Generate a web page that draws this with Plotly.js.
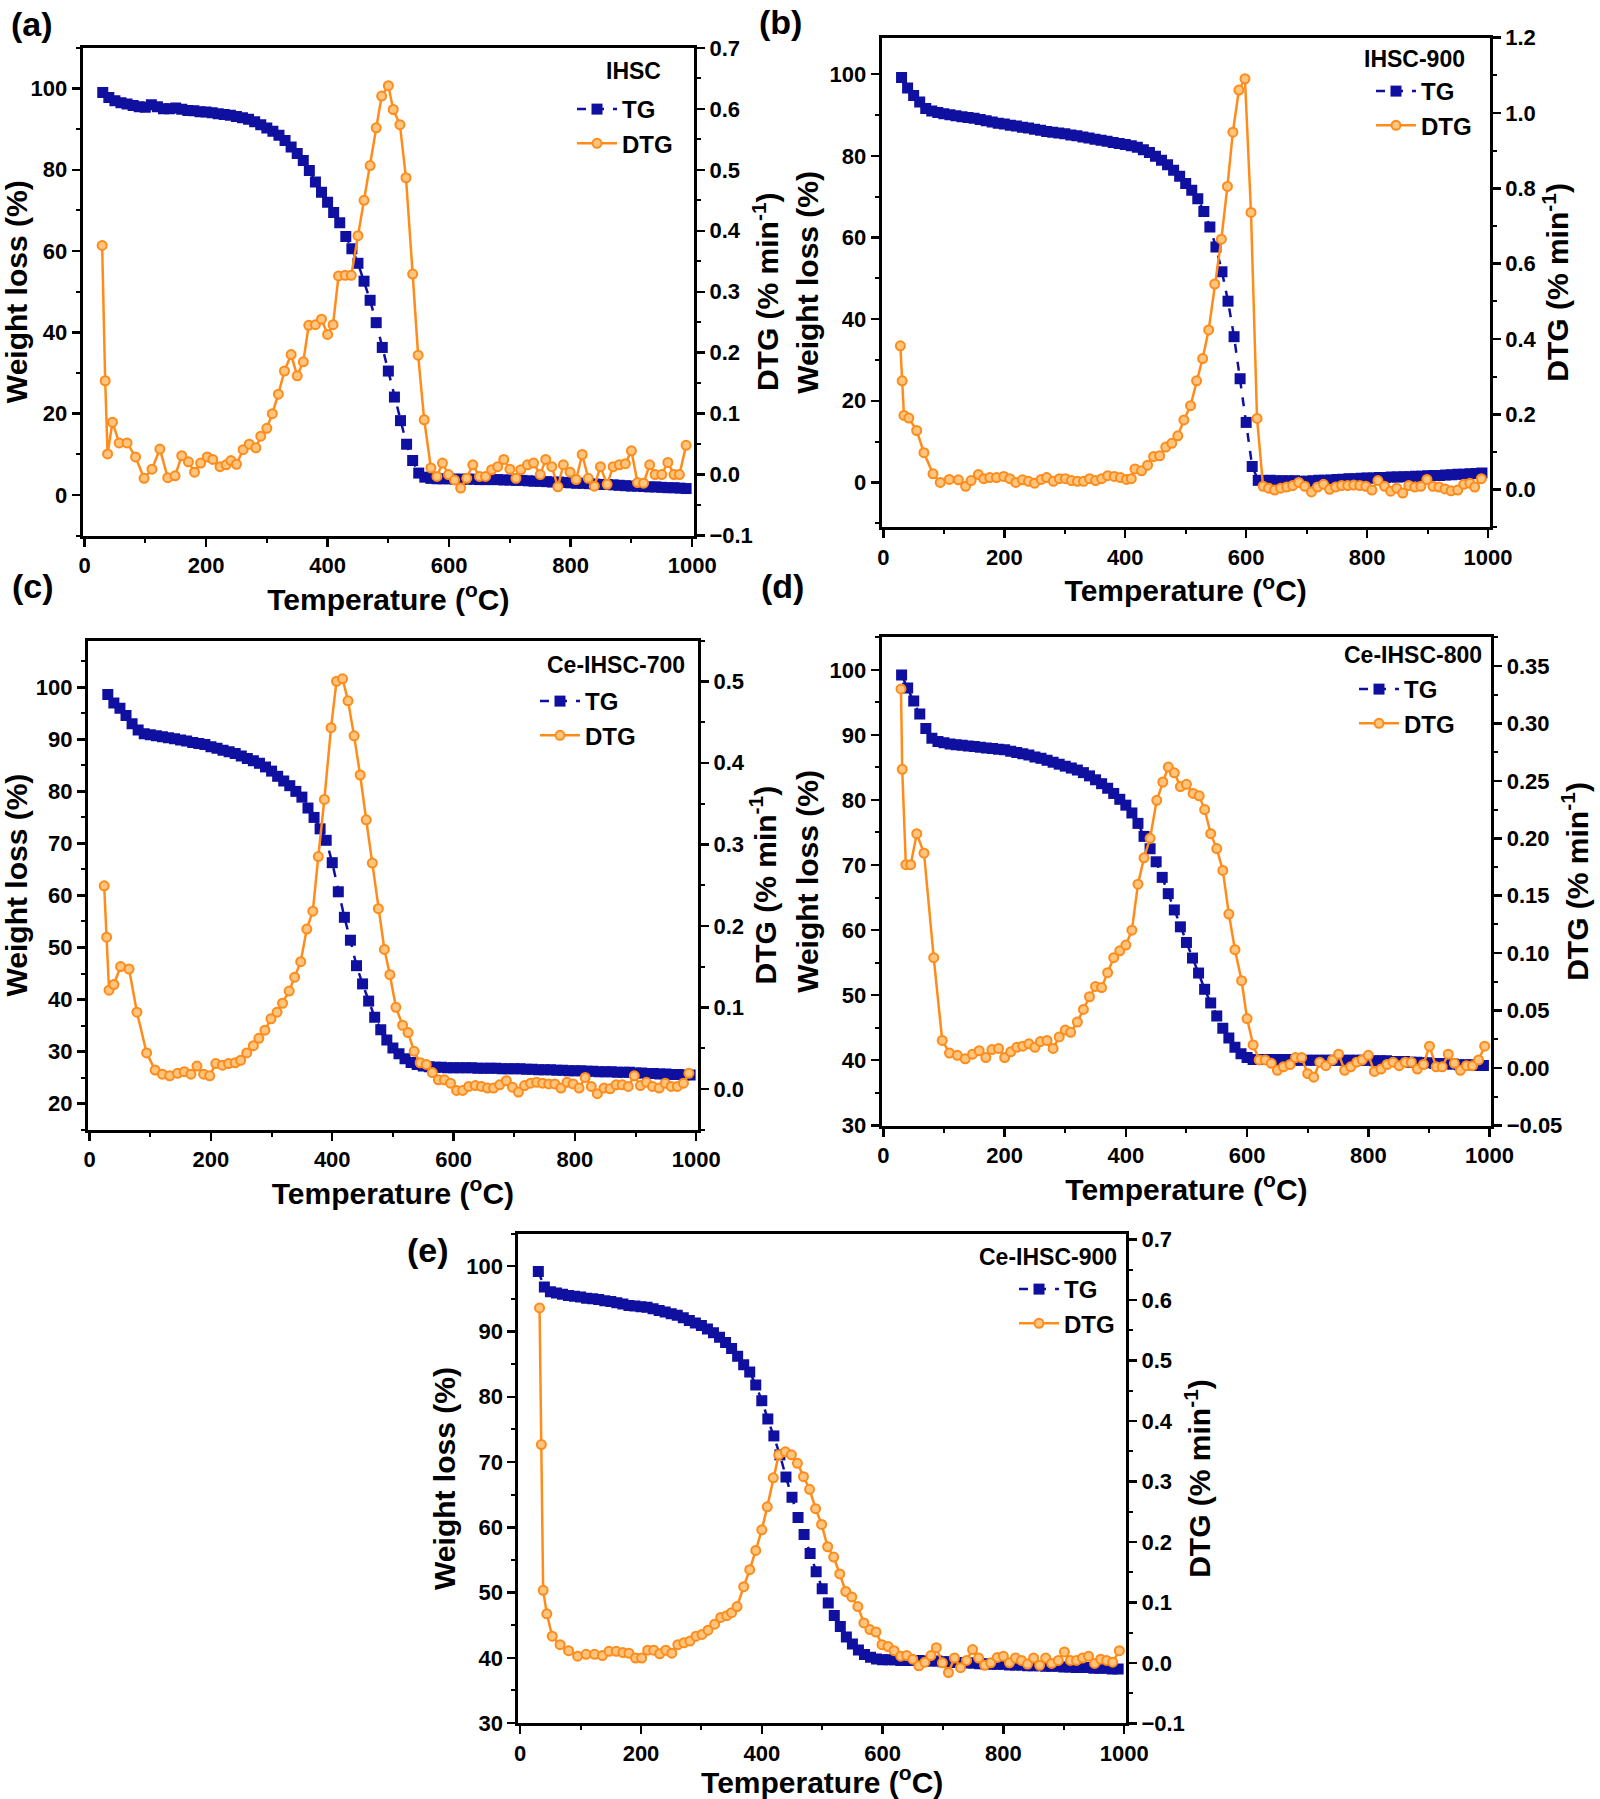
<!DOCTYPE html>
<html><head><meta charset="utf-8">
<script src="https://cdn.plot.ly/plotly-3.0.1.min.js"></script>
<style>html,body{margin:0;padding:0;background:#fff}</style>
</head><body>
<div id="chart" style="width:1600px;height:1799px"></div>
<script>
// ---------- DATA ----------
const temperature = [30,40,50,60,70,80,90,100,110,120,130,140,150,160,170,180,190,200,210,220,230,240,250,260,270,280,290,300,310,320,330,340,350,360,370,380,390,400,410,420,430,440,450,460,470,480,490,500,510,520,530,540,550,560,570,580,590,600,610,620,630,640,650,660,670,680,690,700,710,720,730,740,750,760,770,780,790,800,810,820,830,840,850,860,870,880,890,900,910,920,930,940,950,960,970,980,990];

const tgIHSC = [99.0,97.8,97.0,96.5,96.2,95.8,95.5,95.4,96.0,95.5,
95.0,95.0,95.2,94.9,94.6,94.5,94.3,94.2,94.0,93.8,
93.6,93.4,93.1,92.8,92.4,91.8,91.1,90.3,89.5,88.5,
87.2,85.6,84.0,82.3,79.8,77.0,74.5,72.0,69.5,67.0,
63.6,60.6,57.0,52.6,47.9,42.4,36.3,30.5,24.1,18.3,
12.5,8.5,5.4,4.4,4.1,4.0,4.0,4.0,3.9,3.9,
3.9,3.9,3.8,3.8,3.8,3.8,3.7,3.7,3.6,3.6,
3.5,3.4,3.4,3.3,3.2,3.2,3.1,3.0,2.9,2.9,
2.8,2.7,2.6,2.6,2.5,2.4,2.3,2.2,2.2,2.1,
2.0,2.0,1.9,1.8,1.8,1.7,1.6];

const tgIHSC900 = [99.2,96.6,94.8,93.2,91.6,91.0,90.6,90.3,90.1,89.8,
89.6,89.4,89.2,88.9,88.6,88.3,88.0,87.8,87.5,87.3,
87.0,86.8,86.5,86.3,86.0,85.8,85.6,85.4,85.1,84.9,
84.6,84.4,84.1,83.8,83.6,83.3,83.0,82.8,82.5,82.1,
81.5,80.8,79.9,78.9,77.8,76.5,75.0,73.2,71.6,69.5,
66.4,62.6,57.7,51.6,44.4,35.7,25.4,14.7,3.9,0.5,
0.5,0.5,0.4,0.4,0.4,0.4,0.3,0.3,0.4,0.5,
0.5,0.6,0.7,0.8,0.9,0.9,1.0,1.1,1.1,1.2,
1.2,1.3,1.3,1.4,1.4,1.5,1.5,1.6,1.7,1.7,
1.8,1.9,2.0,2.0,2.1,2.2,2.3];

const tgCe700 = [98.6,97.0,96.0,94.6,93.0,91.8,91.1,90.9,90.7,90.5,
90.3,90.1,89.9,89.7,89.4,89.2,89.0,88.6,88.3,87.9,
87.6,87.3,86.8,86.3,85.9,85.4,84.7,83.9,82.9,82.0,
81.1,80.0,78.9,76.8,75.0,72.8,70.6,66.3,60.7,55.8,
51.4,46.5,43.0,39.7,36.6,34.2,32.2,30.7,29.6,28.6,
27.9,27.5,27.2,27.1,27.0,27.0,26.9,26.9,26.9,26.9,
26.9,26.8,26.8,26.8,26.8,26.7,26.7,26.7,26.7,26.6,
26.6,26.5,26.5,26.5,26.4,26.4,26.3,26.3,26.3,26.2,
26.2,26.1,26.1,26.1,26.0,26.0,26.0,25.9,25.9,25.8,
25.8,25.7,25.7,25.6,25.6,25.5,25.5];

const tgCe800 = [99.2,97.2,95.2,93.2,91.0,89.5,89.0,88.8,88.6,88.5,
88.4,88.3,88.2,88.1,88.0,87.9,87.8,87.7,87.5,87.3,
87.1,86.9,86.6,86.4,86.1,85.8,85.5,85.2,84.9,84.6,
84.2,83.7,83.1,82.5,81.8,81.0,80.1,79.2,78.0,76.4,
74.4,72.5,70.5,68.1,65.6,63.1,60.5,58.1,55.7,53.4,
50.9,48.8,46.8,44.9,43.4,42.0,41.0,40.4,40.1,40.1,
40.1,40.1,40.1,40.1,40.1,40.0,40.0,40.0,40.0,40.0,
40.0,40.0,40.0,40.0,40.0,40.0,40.0,40.0,39.9,39.9,
39.9,39.8,39.8,39.8,39.7,39.7,39.6,39.6,39.5,39.5,
39.4,39.4,39.3,39.3,39.3,39.2,39.2];

const tgCe900 = [99.2,96.8,96.1,95.9,95.7,95.5,95.4,95.3,95.1,95.0,
94.9,94.7,94.6,94.4,94.2,94.0,93.9,93.8,93.7,93.5,
93.2,93.0,92.7,92.5,92.1,91.7,91.3,90.9,90.4,89.8,
89.1,88.3,87.4,86.2,84.9,83.8,81.8,79.4,76.6,74.0,
71.1,67.7,64.6,61.5,58.9,56.0,53.2,50.6,48.4,46.5,
44.8,43.2,42.1,41.2,40.5,40.1,39.8,39.7,39.7,39.7,
39.6,39.6,39.6,39.6,39.5,39.5,39.5,39.4,39.4,39.3,
39.3,39.2,39.2,39.1,39.1,39.0,39.0,39.0,38.9,38.9,
38.9,38.8,38.8,38.8,38.7,38.7,38.7,38.6,38.6,38.5,
38.5,38.5,38.4,38.4,38.4,38.3,38.3];

const dtgIHSC_T = [29,34,38,46,57,70,84,98,111,124,137,149,160,171,181,191,202,211,223,233,241,250,261,271,282,290,300,309,319,329,340,350,360,369,380,390,400,409,418,429,439,450,460,470,480,489,500,508,519,529,540,549,559,570,580,589,599,609,619,629,639,650,660,670,680,690,700,710,718,729,739,750,759,769,779,788,799,809,819,829,839,849,860,870,880,890,900,910,920,930,939,950,960,970,979,990];
const dtgIHSC = [0.376,0.154,0.034,0.086,0.052,0.052,0.029,-0.006,0.009,0.042,-0.005,-0.002,0.031,0.021,0.004,0.019,0.029,0.025,0.013,0.016,0.023,0.017,0.041,0.05,0.044,0.063,0.076,0.1,0.132,0.17,0.197,0.162,0.185,0.245,0.246,0.255,0.23,0.246,0.326,0.327,0.327,0.392,0.45,0.507,0.569,0.621,0.638,0.599,0.574,0.487,0.329,0.196,0.09,0.011,-0.003,0.019,0.0,-0.009,-0.022,-0.006,0.016,-0.003,-0.003,0.008,0.013,0.025,0.009,-0.006,0.008,0.016,0.019,0.0,0.025,0.013,-0.02,0.016,0.004,-0.008,0.033,-0.006,-0.019,0.013,-0.016,0.013,0.016,0.018,0.039,-0.013,-0.014,0.016,0.0,0.0,0.02,0.0,0.0,0.048];

const dtgIHSC900_T = [28,31,34,42,55,67,82,94,109,124,136,145,157,166,176,187,199,209,219,230,240,250,261,270,281,291,301,311,321,331,341,351,361,371,382,392,402,410,416,427,437,447,457,467,477,487,497,508,518,528,538,548,559,569,578,588,598,608,618,628,637,647,657,667,677,687,697,708,718,728,738,748,758,768,778,788,798,808,818,829,839,849,859,869,879,889,899,909,919,929,939,950,960,970,978,989];
const dtgIHSC900 = [0.382,0.289,0.197,0.19,0.157,0.098,0.042,0.019,0.027,0.026,0.009,0.024,0.04,0.029,0.032,0.032,0.035,0.029,0.019,0.026,0.022,0.017,0.027,0.032,0.022,0.029,0.029,0.024,0.022,0.022,0.029,0.024,0.029,0.037,0.035,0.032,0.027,0.029,0.055,0.05,0.065,0.088,0.09,0.113,0.123,0.143,0.185,0.223,0.289,0.348,0.424,0.546,0.665,0.805,0.949,1.061,1.091,0.736,0.189,0.009,0.004,-0.001,0.004,0.007,0.011,0.019,0.009,-0.006,0.007,0.014,0.001,0.007,0.011,0.011,0.012,0.011,0.009,-0.001,0.024,0.009,-0.004,0.004,-0.009,0.011,0.007,0.009,0.027,0.009,0.007,0.002,-0.003,-0.001,0.014,0.017,0.007,0.029];

const dtgCe700_T = [24,28,32,40,51,65,78,94,108,120,132,145,156,167,177,188,198,208,219,229,240,249,259,270,279,289,299,309,318,329,338,348,358,368,377,387,398,407,417,426,436,446,456,466,476,486,495,505,516,525,535,545,555,565,575,585,595,605,615,625,636,646,656,666,676,687,697,707,717,727,737,747,757,767,777,787,797,807,817,827,837,848,858,868,878,888,898,908,918,928,939,949,959,969,979,988];
const dtgCe700 = [0.249,0.186,0.121,0.128,0.15,0.147,0.094,0.044,0.023,0.018,0.016,0.019,0.021,0.018,0.028,0.018,0.016,0.031,0.029,0.031,0.032,0.035,0.044,0.053,0.062,0.072,0.086,0.094,0.105,0.12,0.137,0.156,0.196,0.218,0.285,0.355,0.443,0.5,0.503,0.476,0.433,0.385,0.33,0.277,0.221,0.171,0.14,0.1,0.078,0.069,0.046,0.032,0.03,0.02,0.011,0.011,0.007,-0.002,-0.002,0.003,0.004,0.003,0.001,0.001,0.005,0.01,0.002,-0.004,0.004,0.007,0.008,0.007,0.006,0.006,0.001,0.008,0.006,0.001,0.014,0.003,-0.006,0.001,0.0,0.005,0.005,0.003,0.016,0.004,0.008,0.003,0.001,0.007,0.003,0.003,0.007,0.019];

const dtgCe800_T = [29,31,37,45,55,67,83,97,109,122,135,147,158,169,179,190,200,210,220,230,240,250,259,270,280,290,300,309,320,330,340,350,360,370,380,390,400,410,420,430,440,451,461,470,480,490,500,511,521,530,540,550,560,570,580,591,600,610,620,630,640,650,660,671,680,690,700,710,720,730,741,751,761,771,781,790,800,810,821,831,841,851,861,871,881,891,901,912,922,932,942,952,962,972,982,992];
const dtgCe800 = [0.33,0.26,0.177,0.177,0.204,0.187,0.096,0.024,0.013,0.011,0.008,0.012,0.015,0.009,0.016,0.017,0.009,0.014,0.018,0.019,0.021,0.018,0.023,0.024,0.017,0.027,0.033,0.031,0.04,0.051,0.062,0.071,0.07,0.083,0.096,0.102,0.107,0.12,0.16,0.183,0.2,0.233,0.249,0.262,0.257,0.245,0.247,0.239,0.237,0.225,0.204,0.191,0.172,0.134,0.103,0.076,0.043,0.02,0.007,0.007,0.004,-0.002,0.001,0.003,0.009,0.009,-0.005,-0.008,0.005,0.002,0.007,0.012,-0.002,0.001,0.005,0.007,0.011,-0.003,-0.001,0.003,0.005,0.002,0.005,0.005,-0.001,0.003,0.019,0.001,0.001,0.012,0.004,-0.002,0.002,0.002,0.007,0.019];

const dtgCe900_T = [32,35,38,44,53,66,80,95,109,123,136,147,159,170,180,191,201,211,221,231,241,251,261,271,281,291,301,311,322,332,342,350,359,370,380,390,400,409,419,428,439,449,459,469,479,489,499,509,519,529,539,549,559,569,579,589,599,609,619,630,640,650,660,670,680,689,699,709,719,729,739,749,759,769,779,790,800,810,820,830,840,850,860,870,880,891,901,911,921,931,941,951,961,971,981,992];
const dtgCe900 = [0.587,0.361,0.12,0.081,0.044,0.03,0.02,0.011,0.014,0.014,0.012,0.019,0.019,0.017,0.016,0.008,0.008,0.021,0.021,0.015,0.021,0.016,0.03,0.033,0.036,0.044,0.047,0.054,0.064,0.075,0.078,0.083,0.093,0.126,0.154,0.186,0.22,0.258,0.306,0.344,0.349,0.344,0.33,0.308,0.287,0.255,0.229,0.192,0.175,0.147,0.118,0.109,0.093,0.066,0.055,0.051,0.03,0.027,0.02,0.011,0.012,0.006,-0.005,0.001,0.012,0.025,0.0,-0.016,0.008,-0.008,0.004,0.022,0.008,-0.004,0.0,0.009,0.011,0.0,0.008,0.004,-0.002,0.008,-0.004,0.008,-0.001,0.004,0.018,0.004,0.004,0.008,0.011,-0.001,0.006,0.004,0.001,0.02];

const sampleNames = ['IHSC','IHSC-900','Ce-IHSC-700','Ce-IHSC-800','Ce-IHSC-900'];
const panelLabels = ['(a)','(b)','(c)','(d)','(e)'];
const tgSeries = [tgIHSC, tgIHSC900, tgCe700, tgCe800, tgCe900];
const dtgTemps = [dtgIHSC_T, dtgIHSC900_T, dtgCe700_T, dtgCe800_T, dtgCe900_T];
const dtgSeries = [dtgIHSC, dtgIHSC900, dtgCe700, dtgCe800, dtgCe900];

// ---------- LAYOUT (pixels in a 1600x1799 page) ----------
const W = 1600, H = 1799;
const panels = [
  {box:[82.7,694,47.8,535.7],  yL:[-10,110],  yLd:20, yLm:10, yR:[-0.1002,0.7002], yRd:0.1, yRm:0.05, yRf:'.1f', label:[32,24],  name:[663,71],   leg:[572,87]},
  {box:[881.6,1489.8,37.5,527.3], yL:[-11,109], yLd:20, yLm:10, yR:[-0.1,1.2005], yRd:0.2, yRm:0.1, yRf:'.1f', label:[780,22], name:[1467,59], leg:[1371,69]},
  {box:[87.8,698,640.5,1129.6], yL:[15,109],   yLd:10, yLm:5,  yR:[-0.05,0.55],   yRd:0.1, yRm:0.05, yRf:'.1f', label:[33,586], name:[687,665],  leg:[535,679]},
  {box:[881.6,1491.3,637.3,1125.6], yL:[29.95,105], yLd:10, yLm:5, yR:[-0.0502,0.375], yRd:0.05, yRm:0.025, yRf:'.2f', label:[782,586], name:[1484,655], leg:[1354,667]},
  {box:[518.4,1126,1233.6,1723.4], yL:[29.95,105], yLd:10, yLm:5, yR:[-0.1002,0.71], yRd:0.1, yRm:0.05, yRf:'.1f', label:[428,1250], name:[1119,1257], leg:[1014,1267]}
];

const FONT = 'Liberation Sans, Arial, sans-serif';
const BLUE = '#0F0FA0', ORANGE = '#FF8C1A';
const tickFont = {family:FONT, size:22, color:'#000', weight:'bold'};
const titleFont = {family:FONT, size:30, color:'#000', weight:'bold'};

const data = [];
const layout = {
  width:W, height:H, margin:{l:0,r:0,t:0,b:0},
  paper_bgcolor:'#fff', plot_bgcolor:'rgba(0,0,0,0)',
  font:{family:FONT, size:22, color:'#000'},
  showlegend:true, annotations:[]
};

panels.forEach((p, i) => {
  const n = i + 1;
  const xa = n === 1 ? 'xaxis' : 'xaxis' + n;
  const yl = 2*n - 1, yr = 2*n;
  const ylName = yl === 1 ? 'yaxis' : 'yaxis' + yl;
  const yrName = 'yaxis' + yr;
  const xRef = n === 1 ? 'x' : 'x' + n;
  const ylRef = yl === 1 ? 'y' : 'y' + yl;
  const yrRef = 'y' + yr;
  const legName = n === 1 ? 'legend' : 'legend' + n;
  const [L, R, T, B] = p.box;

  layout[xa] = {
    domain:[L/W, R/W], anchor:ylRef, range:[-3,1003],
    tick0:0, dtick:200, ticks:'outside', ticklen:8, tickwidth:2.5, tickcolor:'#000',
    minor:{ticks:'outside', ticklen:4, tickwidth:2, dtick:100, tickcolor:'#000'},
    showline:true, linewidth:3, linecolor:'#000', mirror:true,
    showgrid:false, zeroline:false, tickfont:tickFont,
    title:{text:'Temperature (<sup>o</sup>C)', font:titleFont, standoff:5}
  };
  layout[ylName] = {
    domain:[1 - B/H, 1 - T/H], anchor:xRef, range:p.yL,
    tick0:0, dtick:p.yLd, ticks:'outside', ticklen:8, tickwidth:2.5, tickcolor:'#000',
    minor:{ticks:'outside', ticklen:4, tickwidth:2, dtick:p.yLm, tickcolor:'#000'},
    showline:true, linewidth:3, linecolor:'#000',
    showgrid:false, zeroline:false, tickfont:tickFont,
    title:{text:'Weight loss (%)', font:titleFont, standoff:2}
  };
  layout[yrName] = {
    overlaying:ylRef, side:'right', anchor:xRef, range:p.yR,
    tick0:0, dtick:p.yRd, tickformat:p.yRf, ticks:'outside', ticklen:8, tickwidth:2.5, tickcolor:'#000',
    minor:{ticks:'outside', ticklen:4, tickwidth:2, dtick:p.yRm, tickcolor:'#000'},
    showline:true, linewidth:3, linecolor:'#000',
    showgrid:false, zeroline:false, tickfont:tickFont,
    title:{text:'DTG (% min<sup>-1</sup>)', font:titleFont, standoff:6}
  };
  layout[legName] = {
    x:p.leg[0]/W, y:1 - p.leg[1]/H, xanchor:'left', yanchor:'top',
    bgcolor:'rgba(0,0,0,0)', borderwidth:0, itemwidth:40, tracegroupgap:0,
    font:{family:FONT, size:24, color:'#000', weight:'bold'}
  };

  data.push({
    type:'scatter', mode:'lines+markers', name:'TG', legend:legName,
    x:temperature, y:tgSeries[i], xaxis:xRef, yaxis:ylRef,
    line:{color:BLUE, width:2.5, dash:'dash'},
    marker:{symbol:'square', size:11, color:BLUE}
  });
  data.push({
    type:'scatter', mode:'lines+markers', name:'DTG', legend:legName,
    x:dtgTemps[i], y:dtgSeries[i], xaxis:xRef, yaxis:yrRef,
    line:{color:ORANGE, width:2.5},
    marker:{symbol:'circle', size:9, color:'#FFC47E', line:{color:ORANGE, width:2}}
  });

  layout.annotations.push({
    xref:'paper', yref:'paper', x:p.name[0]/W, y:1 - p.name[1]/H,
    xanchor:'right', yanchor:'middle', showarrow:false, text:sampleNames[i],
    font:{family:FONT, size:23, color:'#000', weight:'bold'}
  });
  layout.annotations.push({
    xref:'paper', yref:'paper', x:p.label[0]/W, y:1 - p.label[1]/H,
    xanchor:'center', yanchor:'middle', showarrow:false, text:panelLabels[i],
    font:{family:FONT, size:34, color:'#000', weight:'bold'}
  });
});

Plotly.newPlot('chart', data, layout, {displayModeBar:false, staticPlot:true});
</script>
</body></html>
